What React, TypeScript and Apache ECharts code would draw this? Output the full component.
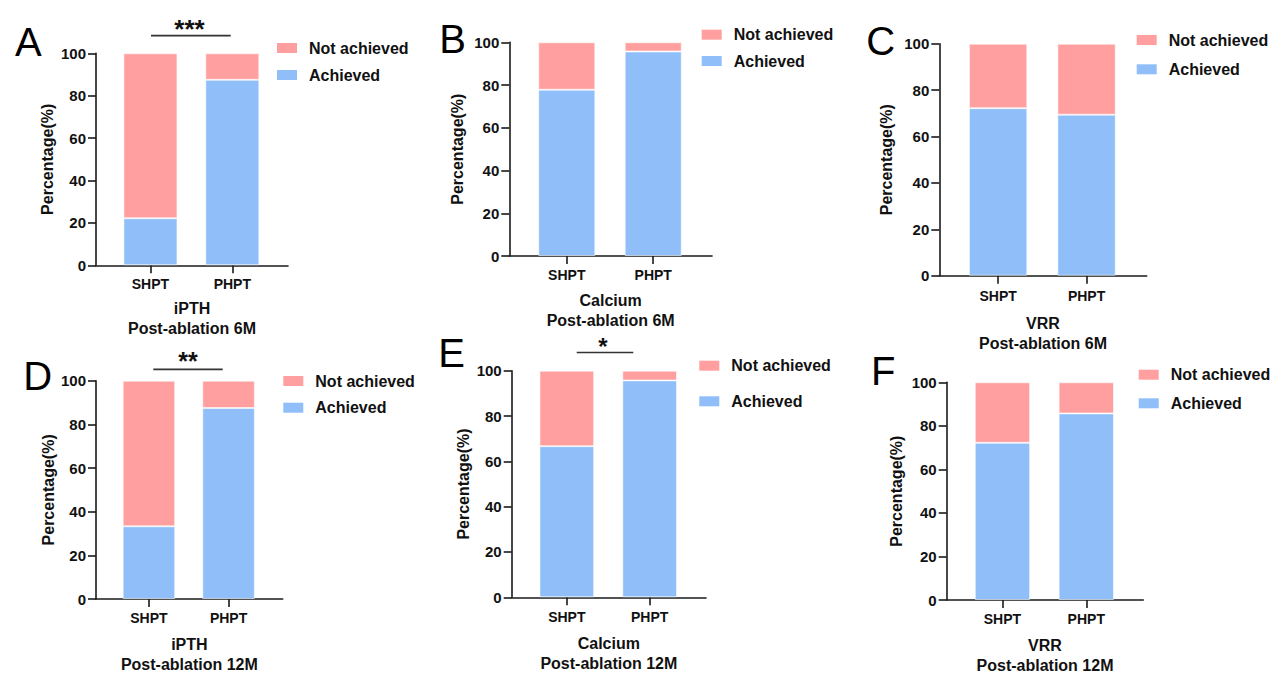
import React, { useEffect, useRef } from "react";
import * as echarts from "echarts";

// ---------- data ----------
const groups = ["SHPT", "PHPT"];
const legendNames = ["Not achieved", "Achieved"];
const yTitle = "Percentage(%)";

const achievedA = [22.2, 87.5];
const notAchievedA = [77.8, 12.5];
const achievedB = [77.8, 95.7];
const notAchievedB = [22.2, 4.3];
const achievedC = [72.2, 69.4];
const notAchievedC = [27.8, 30.6];
const achievedD = [33.3, 87.5];
const notAchievedD = [66.7, 12.5];
const achievedE = [66.7, 95.7];
const notAchievedE = [33.3, 4.3];
const achievedF = [72.2, 85.7];
const notAchievedF = [27.8, 14.3];

const panelLetters = ["A", "B", "C", "D", "E", "F"];
const xTitles = [
  "iPTH\nPost-ablation 6M",
  "Calcium\nPost-ablation 6M",
  "VRR\nPost-ablation 6M",
  "iPTH\nPost-ablation 12M",
  "Calcium\nPost-ablation 12M",
  "VRR\nPost-ablation 12M",
];
const significance = ["***", "", "", "**", "*", ""];

const achievedAll = [achievedA, achievedB, achievedC, achievedD, achievedE, achievedF];
const notAchievedAll = [notAchievedA, notAchievedB, notAchievedC, notAchievedD, notAchievedE, notAchievedF];

// ---------- layout / style ----------
const FONT = "'Liberation Sans', Arial, Helvetica, sans-serif";
const PINK = "#FF9F9F";
const BLUE = "#8FBEF8";
const INK = "#111111";
const XMIN = 0.335;
const XMAX = 2.68;
const BAR_RATIO = 0.66;

const layouts = [
  { left: 96, top: 53.3, width: 192, height: 212, lm: 11.7, ng: 32.7, yng: 41, lgL: 277, lgT: 40, lgG: 11, letter: [28.3, 41.7], sig: { x1: 151, x2: 230.7, y: 35.7, tx: 189.5, ty: 28.5, size: 26 } },
  { left: 509.3, top: 42.3, width: 202.7, height: 213.7, lm: 12.3, ng: 34, yng: 44, lgL: 701.7, lgT: 26.7, lgG: 10.3, letter: [452.5, 39.2], sig: null },
  { left: 939.3, top: 43.7, width: 207.4, height: 232, lm: 13.3, ng: 37.6, yng: 45, lgL: 1136.7, lgT: 32, lgG: 13.3, letter: [880.8, 40.8], sig: null },
  { left: 96, top: 380.7, width: 186.7, height: 218.3, lm: 12.3, ng: 35, yng: 39.7, lgL: 283.3, lgT: 373, lgG: 10.7, letter: [37.7, 375.8], sig: { x1: 153.3, x2: 222.7, y: 369.3, tx: 188, ty: 361, size: 25 } },
  { left: 511.7, top: 370.7, width: 194.3, height: 226.6, lm: 13, ng: 36, yng: 40.4, lgL: 699.3, lgT: 357.7, lgG: 19.6, letter: [451.7, 353], sig: { x1: 576.7, x2: 633.3, y: 352.5, tx: 603, ty: 346, size: 24 } },
  { left: 946.7, top: 382.3, width: 196.6, height: 222.7, lm: 12, ng: 35, yng: 42, lgL: 1138.7, lgT: 366.7, lgG: 12.6, letter: [883.3, 371], sig: null },
];

function buildOption() {
  const grid: any[] = [];
  const xAxis: any[] = [];
  const yAxis: any[] = [];
  const series: any[] = [];
  const legend: any[] = [];
  const graphic: any[] = [];

  layouts.forEach((L, i) => {
    grid.push({ left: L.left, top: L.top, width: L.width, height: L.height, containLabel: false });
    const catPositions = groups.map((_, j) => j + 1);
    xAxis.push({
      gridIndex: i,
      type: "value",
      min: XMIN,
      max: XMAX,
      name: xTitles[i],
      nameLocation: "middle",
      nameGap: L.ng,
      nameTextStyle: { fontFamily: FONT, fontSize: 16, fontWeight: "bold", color: INK, lineHeight: 20 },
      axisLine: { show: true, lineStyle: { color: "#1a1a1a", width: 1.6 } },
      axisTick: { show: true, length: 8, customValues: catPositions, lineStyle: { color: "#1a1a1a", width: 1.6 } },
      axisLabel: {
        show: true,
        customValues: catPositions,
        margin: L.lm,
        formatter: (v: number) => groups[Math.round(v) - 1] ?? "",
        fontFamily: FONT,
        fontSize: 14,
        fontWeight: "bold",
        color: INK,
      },
      splitLine: { show: false },
    });
    yAxis.push({
      gridIndex: i,
      type: "value",
      min: 0,
      max: 100,
      interval: 20,
      name: yTitle,
      nameLocation: "middle",
      nameGap: L.yng,
      nameTextStyle: { fontFamily: FONT, fontSize: 16, fontWeight: "bold", color: INK },
      axisLine: { show: true, lineStyle: { color: "#1a1a1a", width: 1.6 } },
      axisTick: { show: true, length: 8, lineStyle: { color: "#1a1a1a", width: 1.6 } },
      axisLabel: { margin: 10, fontFamily: FONT, fontSize: 15, fontWeight: "bold", color: INK },
      splitLine: { show: false },
    });
    const barWidth = (BAR_RATIO * L.width) / (XMAX - XMIN);
    // value first, position second, so the stack is computed on the y values
    series.push({
      type: "bar",
      name: "Achieved",
      xAxisIndex: i,
      yAxisIndex: i,
      stack: "s" + i,
      barWidth,
      encode: { x: 1, y: 0 },
      data: groups.map((_, j) => [achievedAll[i][j], j + 1]),
      itemStyle: { color: BLUE, borderColor: "rgba(255,255,255,0.55)", borderWidth: 1 },
    });
    series.push({
      type: "bar",
      name: "Not achieved",
      xAxisIndex: i,
      yAxisIndex: i,
      stack: "s" + i,
      barWidth,
      encode: { x: 1, y: 0 },
      data: groups.map((_, j) => [notAchievedAll[i][j], j + 1]),
      itemStyle: { color: PINK, borderColor: "rgba(255,255,255,0.55)", borderWidth: 1 },
    });
    legend.push({
      data: legendNames,
      orient: "vertical",
      left: L.lgL,
      top: L.lgT,
      itemWidth: 20,
      itemHeight: 10,
      itemGap: L.lgG,
      icon: "rect",
      padding: 0,
      selectedMode: false,
      itemStyle: { borderWidth: 0 },
      textStyle: { fontFamily: FONT, fontSize: 16, fontWeight: "bold", color: INK, lineHeight: 16, padding: [0, 0, 0, 7] },
    });
    graphic.push({
      type: "text",
      x: L.letter[0],
      y: L.letter[1],
      style: { text: panelLetters[i], fontFamily: FONT, fontSize: 40, fontWeight: "normal", fill: "#000", textAlign: "center", textVerticalAlign: "middle" },
    });
    if (L.sig) {
      graphic.push({
        type: "line",
        shape: { x1: L.sig.x1, y1: L.sig.y, x2: L.sig.x2, y2: L.sig.y },
        style: { stroke: "#333", lineWidth: 1.7 },
      });
      graphic.push({
        type: "text",
        x: L.sig.tx,
        y: L.sig.ty,
        style: { text: significance[i], fontFamily: FONT, fontSize: L.sig.size, fontWeight: "bold", fill: "#111", textAlign: "center", textVerticalAlign: "middle" },
      });
    }
  });

  return {
    animation: false,
    backgroundColor: "#ffffff",
    grid,
    xAxis,
    yAxis,
    series,
    legend,
    graphic,
  };
}

export default function App() {
  const ref = useRef<HTMLDivElement | null>(null);
  useEffect(() => {
    if (!ref.current) return;
    const chart = echarts.init(ref.current, undefined, { renderer: "svg" });
    chart.setOption(buildOption() as any);
    return () => chart.dispose();
  }, []);
  return (
    <div
      ref={ref}
      style={{ position: "absolute", left: 0, top: 0, width: 1278, height: 676, background: "#fff" }}
    />
  );
}
